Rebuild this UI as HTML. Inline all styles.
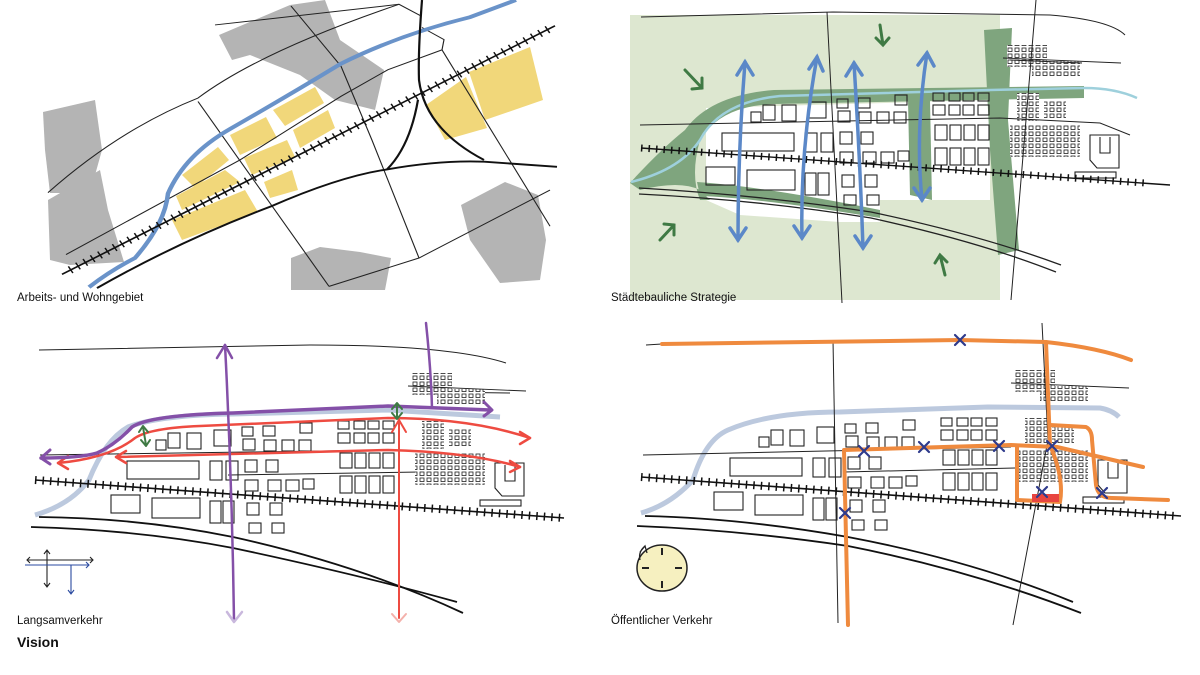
<!DOCTYPE html>
<html><head><meta charset="utf-8"><style>
html,body{margin:0;padding:0;background:#fff;}
svg{display:block}
text{font-family:"Liberation Sans",sans-serif;}
</style></head><body>
<svg width="1200" height="675" viewBox="0 0 1200 675" xmlns="http://www.w3.org/2000/svg">
<defs>
<pattern id="tiny" width="7" height="6" patternUnits="userSpaceOnUse">
<rect width="7" height="6" fill="#fff"/>
<rect x="1" y="1" width="4" height="3.5" fill="none" stroke="#222" stroke-width="0.8"/>
</pattern>
<g id="blocks" fill="none" stroke="#222" stroke-width="1.1">
<rect x="759" y="437" width="10" height="10"/>
<rect x="771" y="430" width="12" height="15"/>
<rect x="790" y="430" width="14" height="16"/>
<rect x="817" y="427" width="17" height="16"/>
<rect x="845" y="424" width="11" height="9"/>
<rect x="866" y="423" width="12" height="10"/>
<rect x="903" y="420" width="12" height="10"/>
<rect x="941" y="418" width="11" height="8"/><rect x="957" y="418" width="11" height="8"/><rect x="971" y="418" width="11" height="8"/><rect x="986" y="418" width="11" height="8"/>
<rect x="941" y="430" width="12" height="10"/><rect x="957" y="430" width="11" height="10"/><rect x="971" y="430" width="11" height="10"/><rect x="986" y="430" width="11" height="10"/>
<rect x="846" y="436" width="12" height="11"/><rect x="867" y="437" width="12" height="11"/><rect x="885" y="437" width="12" height="11"/><rect x="902" y="437" width="12" height="11"/>
<rect x="730" y="458" width="72" height="18"/>
<rect x="813" y="458" width="12" height="19"/><rect x="829" y="458" width="12" height="19"/>
<rect x="848" y="457" width="12" height="12"/><rect x="869" y="457" width="12" height="12"/>
<rect x="943" y="450" width="12" height="15"/><rect x="958" y="450" width="11" height="15"/><rect x="972" y="450" width="11" height="15"/><rect x="986" y="450" width="11" height="15"/>
<rect x="848" y="477" width="13" height="11"/><rect x="871" y="477" width="13" height="11"/><rect x="889" y="477" width="13" height="11"/><rect x="906" y="476" width="11" height="10"/>
<rect x="943" y="473" width="12" height="17"/><rect x="958" y="473" width="11" height="17"/><rect x="972" y="473" width="11" height="17"/><rect x="986" y="473" width="11" height="17"/>
<rect x="714" y="492" width="29" height="18"/>
<rect x="755" y="495" width="48" height="20"/>
<rect x="813" y="498" width="11" height="22"/><rect x="826" y="498" width="11" height="22"/>
<rect x="850" y="500" width="12" height="12"/><rect x="873" y="500" width="12" height="12"/>
<rect x="852" y="520" width="12" height="10"/><rect x="875" y="520" width="12" height="10"/>
<rect x="1015" y="370" width="40" height="22" fill="url(#tiny)" stroke="none"/>
<rect x="1040" y="386" width="48" height="16" fill="url(#tiny)" stroke="none"/>
<rect x="1025" y="418" width="22" height="28" fill="url(#tiny)" stroke="none"/>
<rect x="1052" y="425" width="22" height="18" fill="url(#tiny)" stroke="none"/>
<rect x="1018" y="450" width="70" height="32" fill="url(#tiny)" stroke="none"/>
<path d="M1098 460 L1127 460 L1127 493 L1105 493 L1098 485 Z M1108 462 L1108 478 L1118 478 L1118 462"/>
<rect x="1083" y="497" width="41" height="6"/>
<path d="M1011 383 L1129 388" stroke-width="0.9"/>
</g>
</defs>

<!-- ============ TOP LEFT ============ -->
<g fill="#b4b4b4">
<path d="M43 112 L95 100 L102 150 L90 193 L50 193 L45 150 Z"/>
<path d="M48 200 L100 170 L108 210 L124 262 L70 265 L50 260 Z"/>
<path d="M219 35 L290 5 L325 0 L340 40 L384 70 L375 110 L335 100 L300 75 L250 55 L232 60 Z"/>
<path d="M291 258 L320 247 L360 252 L391 258 L385 290 L291 290 Z"/>
<path d="M461 205 L505 182 L538 195 L546 240 L540 280 L500 283 L470 240 Z"/>
</g>
<g fill="#f1d77a">
<path d="M182 175 L218 147 L229 160 L195 188 Z"/>
<path d="M230 135 L266 117 L277 138 L240 155 Z"/>
<path d="M273 110 L315 87 L324 103 L285 126 Z"/>
<path d="M293 130 L328 110 L335 128 L300 148 Z"/>
<path d="M244 158 L287 140 L295 157 L252 175 Z"/>
<path d="M176 196 L225 170 L240 182 L182 210 Z"/>
<path d="M172 220 L245 190 L258 212 L182 240 Z"/>
<path d="M264 182 L292 170 L298 190 L270 198 Z"/>
<path d="M426 105 L466 77 L487 128 L445 140 Z"/>
<path d="M469 72 L530 47 L543 100 L485 120 Z"/>
</g>
<g transform="scale(1,0.86)">
<g fill="none" stroke="#222" stroke-width="1.15">
<path d="M215 29 L399 5 L420 18"/>
<path d="M48 224 Q120 150 198 114 Q260 60 399 5"/>
<path d="M66 296 L240 186 L341 112 L388 81 L442 58 L444 46 L422 32"/>
<path d="M198 118 L329 333"/>
<path d="M291 7 L341 77 L372 163 L419 300"/>
<path d="M329 333 L419 300 L550 221"/>
<path d="M442 58 L550 263"/>
</g>
<path d="M89 334 Q110 315 135 300 Q165 260 168 225 Q185 180 230 150 Q290 110 341 74 Q400 40 470 20 L516 0" fill="none" stroke="#6a93c9" stroke-width="4.5"/>
<g fill="none" stroke="#111" stroke-width="2.2">
<path d="M97 335 Q180 280 271 240 Q340 205 387 197 Q440 186 484 188 L557 194"/>
<path d="M422 0 Q418 60 419 93 Q425 150 484 186"/>
<path d="M418 116 Q410 170 387 197"/>
</g>
<path d="M62 319 L555 30" stroke="#111" stroke-width="1.8"/>
<path d="M70 314 L550 33" stroke="#111" stroke-width="9" stroke-dasharray="1.5 7"/>
</g>
<text x="17" y="301" font-size="11.5" fill="#111">Arbeits- und Wohngebiet</text>

<!-- ============ TOP RIGHT ============ -->
<rect x="630" y="15" width="370" height="285" fill="#dde7d0"/>
<path d="M706 108 L990 100 L990 200 L880 200 L880 222 L840 222 L740 215 L706 200 Z" fill="#fff"/>
<path d="M1000 40 L1100 35 L1100 170 L1000 175 Z" fill="#fff"/>
<g fill="#7fa57e">
<path d="M630 183 Q660 150 685 130 Q710 95 774 90 L1084 86 L1084 98 L774 104 Q720 106 700 140 Q690 175 700 200 L710 200 L700 190 Q680 180 640 190 Z"/>
<path d="M984 30 L1012 28 L1008 120 L1019 250 L998 255 L990 150 Z"/>
<path d="M908 100 L930 100 L932 200 L910 195 Z"/>
<path d="M697 182 Q760 186 880 210 L880 218 Q760 198 700 196 Z"/>
</g>
<path d="M631 182 Q680 170 700 140 Q720 102 780 96 L990 90 L1084 88 Q1115 88 1137 98" fill="none" stroke="#9ed0dc" stroke-width="2.5"/>
<use href="#blocks" transform="translate(-8,-325)"/>
<g fill="none" stroke="#222" stroke-width="1">
<path d="M641 17 L833 12 L1050 15 Q1110 20 1125 35"/>
<path d="M827 12 L842 303"/>
<path d="M1036 0 L1011 300"/>
<path d="M1010 60 L1082 63"/>
<path d="M640 125 L1000 118 L1100 123 L1130 135"/>
</g>
<g fill="none" stroke="#222" stroke-width="1.3">
<path d="M639 188 Q760 195 871 212 Q980 235 1061 265"/>
<path d="M639 194 Q760 200 871 218 Q980 242 1056 272"/>
</g>
<path d="M641 148 L1170 185" stroke="#111" stroke-width="1.4"/>
<path d="M641 148 L1145 183" stroke="#111" stroke-width="7" stroke-dasharray="1.5 6"/>
<g fill="none" stroke="#5b88c8" stroke-width="3.5" stroke-linecap="round">
<path d="M745 62 Q738 150 738 240"/><path d="M737 75 L745 62 L753 75 M730 228 L738 240 L746 228"/>
<path d="M817 57 Q800 150 802 238"/><path d="M809 69 L817 57 L823 71 M794 226 L802 238 L810 226"/>
<path d="M854 63 Q860 160 863 248"/><path d="M846 76 L854 63 L862 75 M855 236 L863 248 L871 236"/>
<path d="M927 53 Q915 130 922 200"/><path d="M918 65 L927 53 L934 66 M914 188 L922 200 L930 188"/>
</g>
<g fill="none" stroke="#3f7a44" stroke-width="3" stroke-linecap="round">
<path d="M685 70 L702 88 M692 89 L702 88 L702 78"/>
<path d="M880 25 L883 45 M876 38 L883 45 L889 38"/>
<path d="M660 240 L674 225 M664 224 L674 225 L674 235"/>
<path d="M945 275 L940 255 M935 263 L940 255 L947 262"/>
</g>
<text x="611" y="301" font-size="11.5" fill="#111">Städtebauliche Strategie</text>

<!-- ============ BOTTOM LEFT ============ -->
<g fill="none" stroke="#222" stroke-width="1">
<path d="M39 350 L310 345 Q450 345 506 363"/>
<path d="M434 392 L510 393"/>
<path d="M40 455 L390 450"/>
<path d="M228 475 L420 472"/>
</g>
<path d="M35 515 Q70 505 89 480 Q105 440 128 427 Q160 415 233 414 L388 410 L500 417" fill="none" stroke="#bcc9de" stroke-width="5"/>
<use href="#blocks" transform="translate(-603,3)"/>
<g fill="none" stroke="#111" stroke-width="1.8">
<path d="M39 517 Q140 518 233 537 Q360 565 463 613"/>
<path d="M31 527 Q140 530 233 548 Q360 575 457 602"/>
</g>
<path d="M35 480 L564 518" stroke="#111" stroke-width="1.6"/>
<path d="M35 480 L564 518" stroke="#111" stroke-width="8" stroke-dasharray="1.5 6"/>
<g fill="none" stroke-linecap="round" stroke-linejoin="round">
<path d="M58 463 Q110 458 135 438 Q150 428 200 426 L388 418 Q470 418 530 438" stroke="#ee4b41" stroke-width="2.5"/>
<path d="M68 456 L58 463 L68 469 M520 432 L530 438 L520 444" stroke="#ee4b41" stroke-width="2.5"/>
<path d="M116 457 L388 450 Q470 452 520 467" stroke="#ee4b41" stroke-width="2.5"/>
<path d="M126 451 L116 457 L126 463 M510 461 L520 467 L510 472" stroke="#ee4b41" stroke-width="2.5"/>
<path d="M41 458 Q80 458 97 453 Q115 445 132 427 Q150 415 233 413 L388 406 L490 410" stroke="#8450a8" stroke-width="3.5"/>
<path d="M50 450 L41 458 L50 464 M484 402 L492 410 L484 416" stroke="#8450a8" stroke-width="3"/>
<path d="M225 345 Q232 480 234 620" stroke="#8450a8" stroke-width="2.5"/>
<path d="M217 358 L225 345 L232 358" stroke="#8450a8" stroke-width="2.5"/>
<path d="M227 612 L234 622 L242 612" stroke="#c9b8dd" stroke-width="2.5"/>
<path d="M426 323 Q431 370 432 408" stroke="#8450a8" stroke-width="2.5"/>
<path d="M399 420 L399 618" stroke="#ee4b41" stroke-width="2"/>
<path d="M392 432 L399 420 L406 432" stroke="#ee4b41" stroke-width="2"/>
<path d="M392 614 L399 622 L406 614" stroke="#f4b1ab" stroke-width="2"/>
<path d="M143 427 L146 445 M139 432 L143 426 L148 432 M141 440 L146 446 L150 440" stroke="#3f7a44" stroke-width="2"/>
<path d="M397 404 L397 418 M392 409 L397 403 L402 409 M392 413 L397 419 L402 413" stroke="#3f7a44" stroke-width="2"/>
</g>
<g fill="none" stroke-width="1.1">
<path d="M47 550 L47 587 M44 554 L47 550 L50 554 M44 583 L47 587 L50 583 M27 560 L93 560 M30 557 L27 560 L30 563 M90 557 L93 560 L90 563" stroke="#222"/>
<path d="M25 565 L89 565 M71 565 L71 593 M68 590 L71 594 L74 590 M86 562 L89 565 L86 568" stroke="#2a4aa0"/>
</g>
<text x="17" y="624" font-size="11.5" fill="#111">Langsamverkehr</text>
<text x="17" y="647" font-size="14" font-weight="bold" fill="#111">Vision</text>

<!-- ============ BOTTOM RIGHT ============ -->
<path d="M641 513 Q670 505 693 480 Q705 440 728 430 Q770 412 840 412 L988 407 L1100 408 Q1112 410 1119 417" fill="none" stroke="#bcc9de" stroke-width="5"/>
<use href="#blocks"/>
<g fill="none" stroke="#222" stroke-width="1">
<path d="M646 345 L662 344"/>
<path d="M833 340 L838 623"/>
<path d="M1042 323 L1048 440 L1013 625"/>
<path d="M643 455 L1011 447"/>
<path d="M844 472 L1015 468"/>
</g>
<g fill="none" stroke="#111" stroke-width="1.8">
<path d="M645 516 Q740 518 848 537 Q970 560 1073 602"/>
<path d="M637 526 Q740 530 848 546 Q970 570 1081 613"/>
</g>
<path d="M641 477 L1181 516" stroke="#111" stroke-width="1.6"/>
<path d="M641 477 L1175 516" stroke="#111" stroke-width="8" stroke-dasharray="1.5 6"/>
<g fill="none" stroke="#ef8a3e" stroke-width="4" stroke-linecap="round" stroke-linejoin="round">
<path d="M662 344 L960 340 L1046 342 Q1100 348 1131 360"/>
<path d="M1046 342 L1050 445"/>
<path d="M848 625 L844 450 L1011 445 L1057 447 L1143 467"/>
<path d="M1050 425 L1086 427 Q1092 430 1092 440 L1096 485 Q1098 498 1112 498 L1168 500"/>
<path d="M1017 447 L1017 500 L1060 502 Q1064 480 1052 450"/>
</g>
<rect x="1032" y="494" width="27" height="8" fill="#e8453f"/>
<g stroke="#2e3a8c" stroke-width="2.2" stroke-linecap="round">
<path d="M955 335 L965 345 M965 335 L955 345"/>
<path d="M859 446 L869 456 M869 446 L859 456"/>
<path d="M919 442 L929 452 M929 442 L919 452"/>
<path d="M994 441 L1004 451 M1004 441 L994 451"/>
<path d="M1047 441 L1057 451 M1057 441 L1047 451"/>
<path d="M1037 487 L1047 497 M1047 487 L1037 497"/>
<path d="M1097 488 L1107 498 M1107 488 L1097 498"/>
<path d="M840 508 L850 518 M850 508 L840 518"/>
</g>
<ellipse cx="662" cy="568" rx="25" ry="23" fill="#f6f0c0" stroke="#222" stroke-width="1.5"/>
<g stroke="#222" stroke-width="2"><path d="M662 548 L662 555 M662 581 L662 588 M642 568 L649 568 M675 568 L682 568"/></g>
<path d="M640 560 Q638 552 645 546 M640 552 L645 546 L647 553" fill="none" stroke="#222" stroke-width="1.3"/>
<text x="611" y="624" font-size="11.5" fill="#111">Öffentlicher Verkehr</text>
</svg>
</body></html>
